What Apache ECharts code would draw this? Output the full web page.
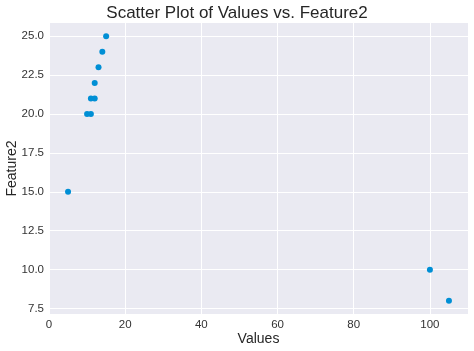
<!DOCTYPE html>
<html>
<head>
<meta charset="utf-8">
<script src="https://cdn.jsdelivr.net/npm/echarts@6/dist/echarts.min.js"></script>
<style>
  html, body { margin: 0; padding: 0; background: #fff; }
  #chart { width: 474px; height: 351px; }
</style>
</head>
<body>
<div id="chart"></div>
<script>
// data
const values = [5, 10, 11, 11, 12, 12, 13, 14, 15, 100, 105]
const feature2 = [15, 20, 20, 21, 21, 22, 23, 24, 25, 10, 8]
const yTicks = [7.5, 10, 12.5, 15, 17.5, 20, 22.5, 25]

const points = values.map((v, i) => [v, feature2[i]])
const font = 'Liberation Sans, Arial, sans-serif'

const chart = echarts.init(document.getElementById('chart'))
chart.setOption({
  backgroundColor: '#fff',
  animation: false,
  title: {
    text: 'Scatter Plot of Values vs. Feature2',
    left: 'center',
    top: 0,
    textStyle: { fontFamily: font, fontSize: 17, fontWeight: 'normal', color: '#262626' }
  },
  grid: {
    left: 49,
    right: 6,
    top: 23,
    bottom: 37,
    containLabel: false,
    outerBoundsMode: 'none',
    show: true,
    backgroundColor: '#EAEAF2',
    borderWidth: 0
  },
  xAxis: {
    type: 'value',
    min: 0,
    max: 110,
    interval: 20,
    name: 'Values',
    nameLocation: 'middle',
    nameGap: 18,
    nameMoveOverlap: false,
    nameTextStyle: { fontFamily: font, fontSize: 14, color: '#262626' },
    axisLine: { show: false },
    axisTick: { show: false },
    axisLabel: { fontFamily: font, fontSize: 11.5, color: '#333', margin: 5, showMaxLabel: false },
    splitLine: { show: true, lineStyle: { color: '#fff', width: 1 } }
  },
  yAxis: {
    type: 'value',
    min: 7.15,
    max: 25.85,
    name: 'Feature2',
    nameLocation: 'middle',
    nameGap: 30,
    nameMoveOverlap: false,
    nameTextStyle: { fontFamily: font, fontSize: 14, color: '#262626' },
    axisLine: { show: false },
    axisTick: { show: false, customValues: yTicks },
    axisLabel: {
      fontFamily: font, fontSize: 11.5, color: '#333', margin: 5,
      customValues: yTicks,
      formatter: v => v.toFixed(1)
    },
    splitLine: { show: true, customValues: yTicks, lineStyle: { color: '#fff', width: 1 } }
  },
  series: [{
    type: 'scatter',
    data: points,
    symbolSize: 6,
    itemStyle: { color: '#008FD5', opacity: 1 }
  }]
})
</script>
</body>
</html>
